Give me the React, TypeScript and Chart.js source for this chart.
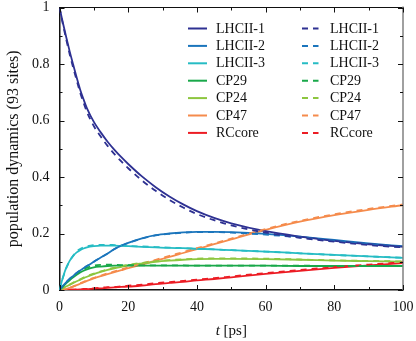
import React, { useEffect, useRef } from "react";
import { Chart, registerables } from "chart.js";

Chart.register(...registerables);

// time axis (ps)
const T = [0, 1, 2, 3, 4, 5, 6, 7, 8, 10, 12, 14, 16, 18, 20, 24, 28, 32, 36, 40, 45, 50, 60, 70, 80, 90, 100];

const NAMES = ["LHCII-1", "LHCII-2", "LHCII-3", "CP29", "CP24", "CP47", "RCcore"];
const COLORS = ["#2e3192", "#1b75bc", "#26bcc4", "#19a84a", "#8dc63f", "#f58b4c", "#ec1c24"];

// solid curves
const LHCII1 = [1.0, 0.945, 0.893, 0.843, 0.797, 0.752, 0.71, 0.675, 0.643, 0.595, 0.558, 0.525, 0.496, 0.47, 0.446, 0.402, 0.364, 0.331, 0.303, 0.279, 0.255, 0.236, 0.208, 0.189, 0.174, 0.162, 0.153];
const LHCII2 = [0, 0.015, 0.028, 0.04, 0.05, 0.06, 0.069, 0.077, 0.085, 0.1, 0.115, 0.129, 0.145, 0.157, 0.167, 0.183, 0.194, 0.2, 0.204, 0.206, 0.206, 0.205, 0.199, 0.189, 0.177, 0.165, 0.155];
const LHCII3 = [0, 0.045, 0.08, 0.104, 0.121, 0.133, 0.141, 0.147, 0.151, 0.155, 0.157, 0.157, 0.157, 0.156, 0.155, 0.153, 0.151, 0.149, 0.148, 0.146, 0.144, 0.141, 0.136, 0.13, 0.124, 0.119, 0.114];
const CP29 = [0, 0.012, 0.024, 0.035, 0.045, 0.054, 0.062, 0.068, 0.073, 0.08, 0.083, 0.085, 0.086, 0.086, 0.086, 0.086, 0.086, 0.086, 0.086, 0.086, 0.086, 0.086, 0.086, 0.085, 0.085, 0.085, 0.085];
const CP24 = [0, 0.006, 0.013, 0.019, 0.025, 0.031, 0.036, 0.042, 0.047, 0.056, 0.064, 0.071, 0.077, 0.082, 0.087, 0.094, 0.1, 0.104, 0.107, 0.109, 0.11, 0.11, 0.109, 0.107, 0.104, 0.102, 0.1];
const CP47 = [0, 0.001, 0.004, 0.008, 0.012, 0.017, 0.022, 0.027, 0.032, 0.041, 0.049, 0.056, 0.063, 0.07, 0.077, 0.09, 0.104, 0.117, 0.131, 0.145, 0.162, 0.179, 0.213, 0.242, 0.265, 0.284, 0.3];
const RCCORE = [0, 0, 0.0005, 0.001, 0.001, 0.0015, 0.002, 0.0025, 0.003, 0.005, 0.006, 0.008, 0.009, 0.011, 0.012, 0.016, 0.021, 0.025, 0.029, 0.034, 0.039, 0.045, 0.057, 0.068, 0.078, 0.087, 0.095];

// dashed curves
const LHCII1_D = [1.0, 0.94, 0.885, 0.833, 0.786, 0.742, 0.699, 0.663, 0.63, 0.58, 0.543, 0.51, 0.481, 0.455, 0.431, 0.388, 0.351, 0.319, 0.292, 0.269, 0.247, 0.229, 0.203, 0.185, 0.171, 0.159, 0.151];
const LHCII2_D = [0, 0.015, 0.028, 0.04, 0.05, 0.06, 0.069, 0.077, 0.085, 0.1, 0.115, 0.129, 0.145, 0.157, 0.166, 0.182, 0.193, 0.199, 0.203, 0.205, 0.205, 0.203, 0.196, 0.186, 0.174, 0.162, 0.152];
const LHCII3_D = [0, 0.043, 0.078, 0.103, 0.122, 0.136, 0.145, 0.151, 0.155, 0.159, 0.16, 0.16, 0.159, 0.158, 0.156, 0.154, 0.152, 0.15, 0.148, 0.146, 0.144, 0.141, 0.136, 0.13, 0.124, 0.119, 0.114];
const CP29_D = [0, 0.012, 0.025, 0.037, 0.048, 0.058, 0.067, 0.074, 0.079, 0.086, 0.089, 0.09, 0.089, 0.088, 0.088, 0.087, 0.087, 0.087, 0.087, 0.086, 0.086, 0.086, 0.086, 0.086, 0.085, 0.085, 0.085];
const CP24_D = [0, 0.006, 0.013, 0.019, 0.026, 0.032, 0.038, 0.044, 0.049, 0.058, 0.066, 0.073, 0.079, 0.084, 0.089, 0.096, 0.102, 0.106, 0.109, 0.111, 0.112, 0.112, 0.111, 0.108, 0.105, 0.103, 0.101];
const CP47_D = [0, 0.001, 0.004, 0.008, 0.013, 0.018, 0.024, 0.029, 0.034, 0.043, 0.051, 0.059, 0.066, 0.073, 0.08, 0.094, 0.107, 0.121, 0.134, 0.148, 0.165, 0.182, 0.216, 0.245, 0.268, 0.287, 0.303];
const RCCORE_D = [0, 0, 0.0005, 0.001, 0.0015, 0.002, 0.003, 0.0035, 0.004, 0.006, 0.008, 0.01, 0.011, 0.013, 0.015, 0.019, 0.024, 0.028, 0.032, 0.037, 0.042, 0.048, 0.06, 0.071, 0.081, 0.09, 0.098];

const SOLID = [LHCII1, LHCII2, LHCII3, CP29, CP24, CP47, RCCORE];
const DASHED = [LHCII1_D, LHCII2_D, LHCII3_D, CP29_D, CP24_D, CP47_D, RCCORE_D];

const X_TITLE_T = "t";
const X_TITLE_UNIT = " [ps]";
const Y_TITLE = "population dynamics (93 sites)";

const FONT = '"Liberation Serif", "Times New Roman", serif';
const DASH = [6, 5];

const frameAndLegend = {
  id: "frameAndLegend",
  afterDraw(chart: any) {
    const { ctx, chartArea, scales } = chart;
    const { left, right, top, bottom } = chartArea;
    const xs = scales.x;
    const ys = scales.y;
    ctx.save();
    // top border
    ctx.strokeStyle = "#111";
    ctx.lineWidth = 1;
    ctx.beginPath();
    ctx.moveTo(left, Math.round(top) - 0.5);
    ctx.lineTo(right, Math.round(top) - 0.5);
    ctx.stroke();
    // right border
    ctx.strokeStyle = "#808080";
    ctx.lineWidth = 1.5;
    ctx.beginPath();
    ctx.moveTo(right, top - 1);
    ctx.lineTo(right, bottom);
    ctx.stroke();
    // inward ticks
    ctx.strokeStyle = "#111";
    ctx.lineWidth = 1;
    for (let i = 0; i <= 10; i++) {
      const v = i * 10;
      const px = Math.round(xs.getPixelForValue(v)) + 0.5;
      const len = i % 2 === 0 ? 5 : 3;
      ctx.beginPath();
      ctx.moveTo(px, bottom);
      ctx.lineTo(px, bottom - len);
      ctx.moveTo(px, top);
      ctx.lineTo(px, top + len);
      ctx.stroke();
    }
    for (let i = 0; i <= 10; i++) {
      const v = i / 10;
      const py = Math.round(ys.getPixelForValue(v)) + 0.5;
      const len = i % 2 === 0 ? 5 : 3;
      ctx.beginPath();
      ctx.moveTo(left, py);
      ctx.lineTo(left + len, py);
      ctx.moveTo(right, py);
      ctx.lineTo(right - len, py);
      ctx.stroke();
    }
    // legend (two columns: solid, dashed)
    ctx.font = "14px " + FONT;
    ctx.textBaseline = "middle";
    ctx.textAlign = "left";
    ctx.fillStyle = "#111";
    const rowY0 = 28.5;
    const rowDY = 17.4;
    for (let i = 0; i < NAMES.length; i++) {
      const y = rowY0 + rowDY * i;
      ctx.strokeStyle = COLORS[i];
      ctx.lineWidth = 2;
      ctx.setLineDash([]);
      ctx.beginPath();
      ctx.moveTo(188, y);
      ctx.lineTo(207, y);
      ctx.stroke();
      ctx.fillText(NAMES[i], 216, y + 0.5);
      ctx.setLineDash(DASH);
      ctx.beginPath();
      ctx.moveTo(302, y);
      ctx.lineTo(318.5, y);
      ctx.stroke();
      ctx.setLineDash([]);
      ctx.fillText(NAMES[i], 330, y + 0.5);
    }
    // x title with italic t
    ctx.font = "italic 15px " + FONT;
    const wT = ctx.measureText(X_TITLE_T).width;
    ctx.font = "15px " + FONT;
    const wU = ctx.measureText(X_TITLE_UNIT).width;
    const cx = (left + right) / 2;
    const x0 = cx - (wT + wU) / 2;
    ctx.font = "italic 15px " + FONT;
    ctx.fillText(X_TITLE_T, x0, 331.5);
    ctx.font = "15px " + FONT;
    ctx.fillText(X_TITLE_UNIT, x0 + wT, 331.5);
    ctx.restore();
  },
};

export default function App() {
  const ref = useRef<HTMLCanvasElement | null>(null);
  useEffect(() => {
    if (!ref.current) return;
    const datasets: any[] = [];
    for (let i = 0; i < NAMES.length; i++) {
      datasets.push({
        label: NAMES[i],
        data: T.map((t, k) => ({ x: t, y: SOLID[i][k] })),
        borderColor: COLORS[i],
        backgroundColor: COLORS[i],
        borderWidth: 1.8,
        pointRadius: 0,
        cubicInterpolationMode: "monotone",
        order: 2,
      });
    }
    for (let i = 0; i < NAMES.length; i++) {
      datasets.push({
        label: NAMES[i] + " (dashed)",
        data: T.map((t, k) => ({ x: t, y: DASHED[i][k] })),
        borderColor: COLORS[i],
        backgroundColor: COLORS[i],
        borderWidth: 1.8,
        borderDash: DASH,
        pointRadius: 0,
        cubicInterpolationMode: "monotone",
        order: 1,
      });
    }
    const chart = new Chart(ref.current, {
      type: "line",
      data: { datasets },
      options: {
        animation: false,
        responsive: false,
        devicePixelRatio: 1,
        layout: { padding: { left: 0, right: 13, top: 7.5, bottom: 0 } },
        plugins: { legend: { display: false }, tooltip: { enabled: false } },
        scales: {
          x: {
            type: "linear",
            min: 0,
            max: 100,
            afterFit: (s: any) => {
              s.height = 51;
              s.paddingLeft = 0;
              s.paddingRight = 0;
            },
            ticks: {
              stepSize: 20,
              color: "#111",
              padding: 9,
              maxRotation: 0,
              font: { family: FONT, size: 14 },
            },
            grid: { display: false, drawTicks: false },
            border: { display: true, color: "#111", width: 1.5 },
          },
          y: {
            type: "linear",
            min: 0,
            max: 1,
            afterFit: (s: any) => {
              s.width = 59.5;
              s.paddingTop = 0;
              s.paddingBottom = 0;
            },
            ticks: {
              stepSize: 0.2,
              color: "#111",
              padding: 10,
              font: { family: FONT, size: 14 },
              callback: (v: any) => String(Number(Number(v).toFixed(1))),
            },
            grid: { display: false, drawTicks: false },
            border: { display: true, color: "#111", width: 1.5 },
            title: {
              display: true,
              text: Y_TITLE,
              color: "#111",
              font: { family: FONT, size: 16 },
              padding: { top: 4, bottom: 0 },
            },
          },
        },
      } as any,
      plugins: [frameAndLegend],
    });
    return () => chart.destroy();
  }, []);
  return (
    <div style={{ position: "absolute", left: 0, top: 0, width: 416, height: 341, background: "#fff" }}>
      <canvas ref={ref} width={416} height={341} />
    </div>
  );
}
